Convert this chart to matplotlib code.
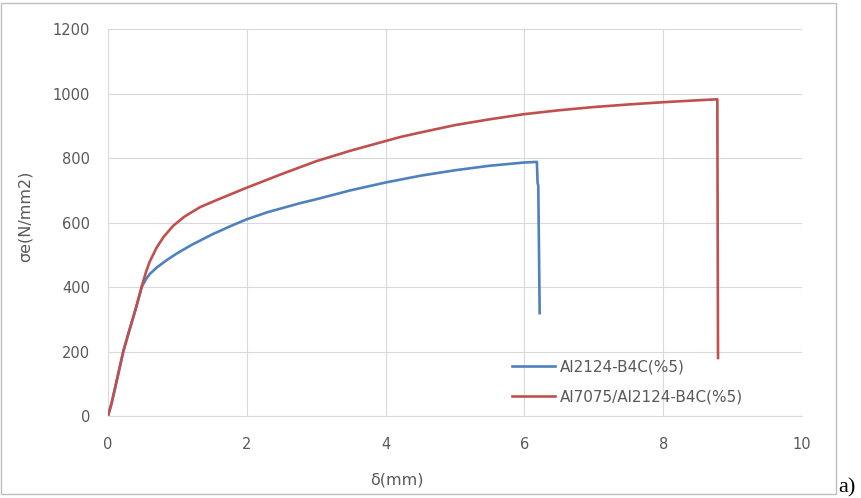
import matplotlib
matplotlib.use('Agg')
import matplotlib.pyplot as plt
from matplotlib.patches import Rectangle

# Al2124-B4C(%5)
x_2124 = [0, 0.05, 0.1, 0.22, 0.3, 0.4, 0.49, 0.55, 0.6, 0.7, 0.85, 1.0, 1.2, 1.5, 1.8, 2.0, 2.3, 2.77,
          3.0, 3.5, 4.0, 4.5, 5.0, 5.5, 6.0, 6.18, 6.19, 6.2, 6.22]
y_2124 = [0, 38, 85, 200, 260, 333, 402, 425, 440, 460, 484, 505, 530, 563, 592, 610, 632, 660,
          672, 700, 724, 745, 762, 776, 786, 788, 722, 715, 319]

# Al7075/Al2124-B4C(%5)
x_7075 = [0, 0.05, 0.1, 0.22, 0.3, 0.4, 0.49, 0.55, 0.6, 0.7, 0.8, 0.94, 1.1, 1.33, 1.57, 2.0, 2.5, 3.0,
          3.5, 4.21, 4.5, 5.0, 5.5, 6.0, 6.5, 7.0, 7.5, 8.0, 8.5, 8.78, 8.79]
y_7075 = [0, 38, 85, 200, 260, 333, 405, 448, 478, 522, 555, 590, 618, 648, 670, 708, 750, 790,
          823, 865, 879, 902, 920, 936, 948, 958, 966, 973, 979, 982, 180]

labels = ['Al2124-B4C(%5)', 'Al7075/Al2124-B4C(%5)']
xticks = [0, 2, 4, 6, 8, 10]
yticks = [0, 200, 400, 600, 800, 1000, 1200]

W, H = 861, 498
fig = plt.figure(figsize=(W/100, H/100), dpi=100)
ax = fig.add_axes([108/W, 1-416/H, (802-108)/W, (416-29)/H])

ax.plot(x_2124, y_2124, color='#4F81BD', lw=1.9, label=labels[0], solid_joinstyle='round')
ax.plot(x_7075, y_7075, color='#C0504D', lw=1.9, label=labels[1], solid_joinstyle='round')

ax.set_xlim(0, 10)
ax.set_ylim(0, 1200)
ax.set_xticks(xticks)
ax.set_yticks(yticks)
ax.grid(True, color='#D9D9D9', lw=0.8)
ax.set_axisbelow(True)
for s in ['top', 'right', 'left']:
    ax.spines[s].set_visible(False)
ax.spines['bottom'].set_color('#D9D9D9')
ax.tick_params(axis='both', length=0, labelsize=10.5, labelcolor='#595959')
ax.tick_params(axis='x', pad=15)
ax.tick_params(axis='y', pad=13)

ax.legend(loc='center left', bbox_to_anchor=(0.582, 0.088), frameon=False,
          fontsize=11, handlelength=2.8, handletextpad=0.35, labelspacing=0.95,
          borderpad=0, borderaxespad=0)
for t in ax.get_legend().get_texts():
    t.set_color('#595959')

fig.text(397/W, 1-480/H, 'δ(mm)', ha='center', va='center', fontsize=11.5, color='#595959')
fig.text(25/W, 1-216/H, 'σe(N/mm2)', ha='center', va='center', rotation=90, fontsize=11.5, color='#595959')

fig.patches.append(Rectangle((1/W, 1-494/H), 835/W, 491/H, transform=fig.transFigure,
                             fill=False, edgecolor='#BFBFBF', lw=1))
fig.text(838/W, 1-492/H, 'a)', ha='left', va='baseline', fontsize=16, family='Liberation Serif', color='black')

fig.savefig('out.png', dpi=100)
